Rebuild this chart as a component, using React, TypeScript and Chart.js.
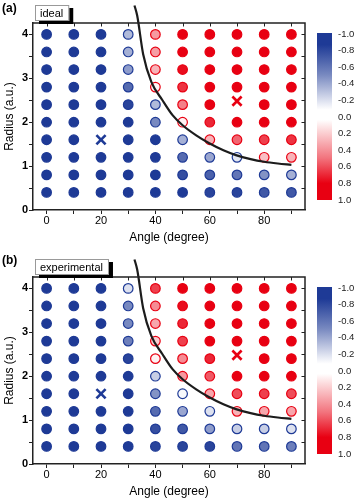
import React, { useEffect, useRef } from "react";
import { Chart, registerables } from "chart.js";

Chart.register(...registerables);

// ---------- data ----------
const angles = [0, 10, 20, 30, 40, 50, 60, 70, 80, 90];
const radii = [4.0, 3.6, 3.2, 2.8, 2.4, 2.0, 1.6, 1.2, 0.8, 0.4];

// rows follow `radii` (top to bottom), columns follow `angles`; null = cell replaced by a cross
const idealValues: (number | null)[][] = [
  [-1, -1, -1, -0.35, 0.4, 1, 1, 1, 1, 1],
  [-1, -1, -1, -0.4, 0.38, 1, 1, 1, 1, 1],
  [-1, -1, -1, -0.5, 0.3, 0.95, 1, 1, 1, 1],
  [-1, -1, -1, -0.75, 0.03, 0.8, 1, 1, 1, 1],
  [-1, -1, -1, -0.95, -0.35, 0.5, 1, null, 1, 1],
  [-1, -1, -1, -1, -0.6, 0.05, 0.85, 1, 1, 1],
  [-1, -1, null, -1, -1, -0.4, 0.3, 0.6, 0.75, 0.8],
  [-1, -1, -1, -1, -1, -0.75, -0.45, -0.12, 0.25, 0.3],
  [-1, -1, -1, -1, -1, -0.9, -0.8, -0.7, -0.55, -0.4],
  [-1, -1, -1, -1, -1, -1, -0.95, -0.95, -0.85, -0.85],
];

const experimentalValues: (number | null)[][] = [
  [-1, -1, -1, -0.15, 0.75, 1, 1, 1, 1, 1],
  [-1, -1, -1, -0.6, 0.45, 0.95, 1, 1, 1, 1],
  [-1, -1, -1, -0.6, 0.35, 0.85, 1, 1, 1, 1],
  [-1, -1, -1, -0.65, 0.2, 0.75, 1, 1, 1, 1],
  [-1, -1, -1, -0.95, 0.05, 0.45, 0.85, null, 1, 1],
  [-1, -1, -1, -1, -0.25, 0.4, 0.65, 1, 1, 1],
  [-1, -1, null, -1, -0.55, -0.03, 0.35, 0.7, 0.75, 0.7],
  [-1, -1, -1, -1, -0.75, -0.45, -0.15, 0.3, 0.35, 0.35],
  [-1, -1, -1, -1, -0.9, -0.85, -0.5, -0.25, -0.25, -0.15],
  [-1, -1, -1, -1, -0.95, -0.95, -0.95, -0.7, -0.7, -0.65],
];

const blueCross = [{ x: 20, y: 1.6 }];
const redCross = [{ x: 70, y: 2.48 }];

const curveAngles = [32.3, 33.3, 35.5, 38.5, 42.6, 46.3, 50, 55, 59.8, 65, 69.6, 75, 80, 85, 90];
const curveRadii = [4.66, 4.43, 3.55, 2.92, 2.5, 2.16, 1.93, 1.7, 1.52, 1.36, 1.25, 1.16, 1.1, 1.06, 1.03];

const xTickValues = [0, 10, 20, 30, 40, 50, 60, 70, 80, 90];
const xTickLabels = ["0", "", "20", "", "40", "", "60", "", "80", ""];
const yTickValues = [0, 0.5, 1, 1.5, 2, 2.5, 3, 3.5, 4];
const yTickLabels = ["0", "", "1", "", "2", "", "3", "", "4"];

const colorbarValues = [-1, -0.8, -0.6, -0.4, -0.2, 0, 0.2, 0.4, 0.6, 0.8, 1];
const colorbarLabels = ["-1.0", "-0.8", "-0.6", "-0.4", "-0.2", "0.0", "0.2", "0.4", "0.6", "0.8", "1.0"];

// ---------- styling ----------
const FONT = "'Liberation Sans', Arial, Helvetica, sans-serif";
const BLUE = [30, 58, 150];
const RED = [232, 0, 18];
const rgb = (c: number[]) => `rgb(${c[0]},${c[1]},${c[2]})`;
function mix(c: number[], t: number) {
  const r = Math.round(255 + (c[0] - 255) * t);
  const g = Math.round(255 + (c[1] - 255) * t);
  const b = Math.round(255 + (c[2] - 255) * t);
  return `rgb(${r},${g},${b})`;
}
const fillFor = (v: number) => mix(v < 0 ? BLUE : RED, Math.min(1, Math.abs(v)));
const edgeFor = (v: number) => rgb(v < 0 ? BLUE : RED);

const decorPlugin = {
  id: "decor",
  afterDraw(chart: any, _args: any, opts: any) {
    const { ctx, chartArea, scales } = chart;
    const { left, right, top, bottom } = chartArea;
    const x = scales.x;
    const y = scales.y;
    ctx.save();
    // frame top & right
    ctx.strokeStyle = "#222";
    ctx.lineWidth = 1.5;
    ctx.beginPath();
    ctx.moveTo(left, top);
    ctx.lineTo(right, top);
    ctx.lineTo(right, bottom);
    ctx.stroke();
    // inner ticks on mirrored axes
    ctx.lineWidth = 1;
    ctx.beginPath();
    xTickValues.forEach((v) => {
      const px = Math.round(x.getPixelForValue(v)) + 0.5;
      ctx.moveTo(px, top);
      ctx.lineTo(px, top + 3.5);
    });
    yTickValues.forEach((v) => {
      if (v <= 0) return;
      const py = Math.round(y.getPixelForValue(v)) + 0.5;
      ctx.moveTo(right, py);
      ctx.lineTo(right - 3.5, py);
    });
    ctx.stroke();

    // colour bar
    const cbX = 317, cbW = 15, cbTop = 33, cbBot = 200;
    const grad = ctx.createLinearGradient(0, cbTop, 0, cbBot);
    grad.addColorStop(0, rgb(BLUE));
    grad.addColorStop(0.07, rgb(BLUE));
    grad.addColorStop(0.25, mix(BLUE, 0.6));
    grad.addColorStop(0.43, mix(BLUE, 0.08));
    grad.addColorStop(0.46, "#ffffff");
    grad.addColorStop(0.52, "#ffffff");
    grad.addColorStop(0.56, mix(RED, 0.1));
    grad.addColorStop(0.75, mix(RED, 0.55));
    grad.addColorStop(0.9, rgb(RED));
    grad.addColorStop(1, rgb(RED));
    ctx.fillStyle = grad;
    ctx.fillRect(cbX, cbTop, cbW, cbBot - cbTop);
    ctx.fillStyle = "#222";
    ctx.font = `9.5px ${FONT}`;
    ctx.textAlign = "left";
    ctx.textBaseline = "middle";
    colorbarValues.forEach((v, i) => {
      const py = 34 + ((v + 1) / 2) * 166;
      ctx.fillText(colorbarLabels[i], 338, py);
    });

    // legend tag with shadow
    ctx.font = `11px ${FONT}`;
    const tw = ctx.measureText(opts.legendText).width;
    const bx = 35, by = 5, bw = tw + 11, bh = 16;
    ctx.fillStyle = "#000";
    ctx.fillRect(bx + 4, by + 3, bw, bh);
    ctx.fillStyle = "#fff";
    ctx.fillRect(bx, by, bw, bh);
    ctx.strokeStyle = "#999";
    ctx.lineWidth = 1;
    ctx.strokeRect(bx + 0.5, by + 0.5, bw - 1, bh - 1);
    ctx.fillStyle = "#000";
    ctx.textBaseline = "middle";
    ctx.fillText(opts.legendText, bx + 5, by + bh / 2 + 0.5);

    // panel label
    ctx.font = `bold 12px ${FONT}`;
    ctx.fillText(opts.panelLabel, 2, opts.labelY);
    ctx.restore();
  },
};

function buildPoints(values: (number | null)[][]) {
  const pts: { x: number; y: number }[] = [];
  const bg: string[] = [];
  const bd: string[] = [];
  values.forEach((row, i) =>
    row.forEach((v, j) => {
      if (v === null) return;
      pts.push({ x: angles[j], y: radii[i] });
      bg.push(fillFor(v));
      bd.push(edgeFor(v));
    })
  );
  return { pts, bg, bd };
}

function Panel({ values, legendText, panelLabel, labelY, top }: any) {
  const ref = useRef<HTMLCanvasElement | null>(null);
  useEffect(() => {
    if (!ref.current) return;
    const { pts, bg, bd } = buildPoints(values);
    const curve = curveAngles.map((a, i) => ({ x: a, y: curveRadii[i] }));
    const chart = new Chart(ref.current, {
      type: "scatter",
      data: {
        datasets: [
          {
            type: "line",
            data: curve,
            showLine: true,
            borderColor: "#1c1c1c",
            borderWidth: 2.2,
            pointRadius: 0,
            cubicInterpolationMode: "monotone",
            fill: false,
            clip: false,
          } as any,
          {
            data: blueCross,
            pointStyle: "crossRot",
            pointRadius: 6.5,
            borderWidth: 2.6,
            borderColor: rgb(BLUE),
            backgroundColor: rgb(BLUE),
          } as any,
          {
            data: redCross,
            pointStyle: "crossRot",
            pointRadius: 6.5,
            borderWidth: 2.6,
            borderColor: rgb(RED),
            backgroundColor: rgb(RED),
          } as any,
          {
            data: pts,
            pointRadius: 4.8,
            borderWidth: 1.2,
            backgroundColor: bg,
            borderColor: bd,
          } as any,
        ],
      },
      options: {
        animation: false,
        responsive: false,
        maintainAspectRatio: false,
        events: [],
        layout: { padding: { left: 0, right: 50, top: 23, bottom: 0 } },
        plugins: {
          legend: { display: false },
          tooltip: { enabled: false },
          decor: { legendText, panelLabel, labelY },
        } as any,
        scales: {
          x: {
            type: "linear",
            min: -5,
            max: 95,
            afterBuildTicks: (s: any) => {
              s.ticks = xTickValues.map((v) => ({ value: v }));
            },
            ticks: {
              callback: (_v: any, i: number) => xTickLabels[i],
              font: { family: FONT, size: 11 },
              color: "#000",
              padding: 0,
              maxRotation: 0,
              autoSkip: false,
            },
            grid: { drawOnChartArea: false, tickLength: 4, color: "#222", lineWidth: 1 },
            border: { display: true, color: "#222", width: 1.5 },
            title: {
              display: true,
              text: "Angle (degree)",
              font: { family: FONT, size: 12 },
              color: "#000",
              padding: { top: 0, bottom: 9 },
            },
            afterFit: (s: any) => {
              s.height = 44;
            },
          },
          y: {
            type: "linear",
            min: 0,
            max: 4.26,
            afterBuildTicks: (s: any) => {
              s.ticks = yTickValues.map((v) => ({ value: v }));
            },
            ticks: {
              callback: (_v: any, i: number) => yTickLabels[i],
              font: { family: FONT, size: 11, weight: "bold" },
              color: "#000",
              padding: 1,
              autoSkip: false,
            },
            grid: { drawOnChartArea: false, tickLength: 4, color: "#222", lineWidth: 1 },
            border: { display: true, color: "#222", width: 1.5 },
            title: {
              display: true,
              text: "Radius (a.u.)",
              font: { family: FONT, size: 12 },
              color: "#000",
              padding: { top: 2, bottom: 0 },
            },
            afterFit: (s: any) => {
              s.width = 33;
            },
          },
        } as any,
      },
      plugins: [decorPlugin as any],
    });
    return () => chart.destroy();
  }, [values, legendText, panelLabel, labelY]);
  return (
    <canvas
      ref={ref}
      width={355}
      height={254}
      style={{ position: "absolute", left: 0, top, width: 355, height: 254, display: "block" }}
    />
  );
}

export default function App() {
  return (
    <div
      style={{
        position: "absolute",
        left: 0,
        top: 0,
        width: 355,
        height: 500,
        overflow: "hidden",
        background: "#fff",
      }}
    >
      <Panel values={idealValues} legendText="ideal" panelLabel="(a)" labelY={8.5} top={0} />
      <Panel values={experimentalValues} legendText="experimental" panelLabel="(b)" labelY={6.5} top={254} />
    </div>
  );
}
